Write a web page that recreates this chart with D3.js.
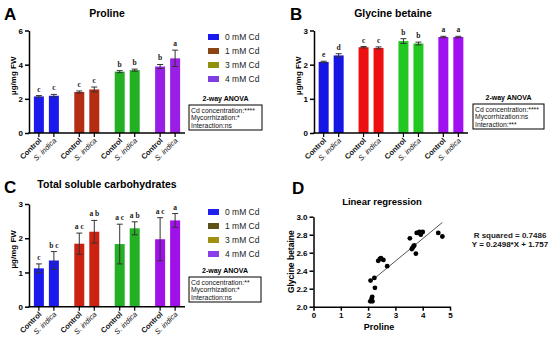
<!DOCTYPE html>
<html>
<head>
<meta charset="utf-8">
<script src="https://cdn.jsdelivr.net/npm/d3@7"></script>
<style>
  body { margin: 0; background: #fff; }
  svg { display: block; font-family: "Liberation Sans", Arial, sans-serif; }
</style>
</head>
<body>
<svg id="chart" width="550" height="344"></svg>
<script>
// groups and treatments
const groups = ["0 mM Cd", "1 mM Cd", "3 mM Cd", "4 mM Cd"];
const treatments = ["Control", "S. indica"];

// Panel A - proline
const prolineMean = [2.14, 2.18, 2.40, 2.55, 3.59, 3.68, 3.89, 4.37];
const prolineErr = [0.05, 0.08, 0.06, 0.14, 0.06, 0.06, 0.12, 0.48];
const prolineLetters = ["c", "c", "c", "c", "b", "b", "b", "a"];

// Panel B - glycine betaine
const gbMean = [2.08, 2.27, 2.51, 2.49, 2.69, 2.62, 2.81, 2.81];
const gbErr = [0.02, 0.05, 0.02, 0.03, 0.07, 0.04, 0.02, 0.02];
const gbLetters = ["e", "d", "c", "c", "b", "b", "a", "a"];

// Panel C - total soluble carbohydrates
const tscMean = [1.12, 1.35, 1.84, 2.19, 1.83, 2.29, 1.97, 2.52];
const tscErr = [0.13, 0.26, 0.31, 0.33, 0.58, 0.19, 0.63, 0.2];
const tscLetters = ["c", "b c", "a c", "a b", "a c", "a b", "a c", "a"];

// Panel D - scatter (proline vs glycine betaine)
const scatterX = [2.09, 2.23, 2.25, 2.15, 2.13, 2.08, 2.16, 2.37, 2.47, 2.56, 2.43, 2.70,
                  3.53, 3.60, 3.66, 3.69, 3.62, 3.75, 3.78, 3.88, 3.93, 4.00, 3.84, 4.57, 4.72];
const scatterY = [2.29, 2.32, 2.21, 2.11, 2.09, 2.06, 2.06, 2.51, 2.54, 2.52, 2.53, 2.45,
                  2.76, 2.64, 2.67, 2.68, 2.65, 2.59, 2.82, 2.83, 2.80, 2.83, 2.82, 2.82, 2.78];
const slope = 0.2498, intercept = 1.757;

const svg = d3.select("#chart");

function styleAxis(a) {
  a.selectAll("text").attr("font-size", 8).attr("font-weight", "bold")
    .attr("font-family", "Liberation Sans, Arial, sans-serif");
  a.selectAll("path,line").attr("stroke-width", 1.5);
}

function barPanel(o) {
  const g = svg.append("g");
  const y = d3.scaleLinear().domain([0, o.yMax]).range([o.y0, o.y1]);
  const xg = d3.scalePoint().domain(groups).range([o.x0, o.x1]).padding(0.43);
  const xi = d3.scalePoint().domain(treatments).range([-7.5, 7.5]);
  const bw = 10;

  const rows = [];
  groups.forEach((gr, gi) => treatments.forEach((t, ti) => {
    const k = gi * 2 + ti;
    rows.push({ group: gr, treat: t, gi, mean: o.mean[k], err: o.err[k], letter: o.letters[k],
                x: xg(gr) + xi(t) });
  }));

  // bars
  g.selectAll("rect.bar").data(rows).join("rect")
    .attr("class", "bar")
    .attr("x", d => d.x - bw / 2)
    .attr("width", bw)
    .attr("y", d => y(d.mean))
    .attr("height", d => y(0) - y(d.mean))
    .attr("fill", d => o.colors[d.gi]);

  // error bars
  const eb = g.selectAll("g.err").data(rows).join("g").attr("class", "err")
    .attr("stroke", "#333").attr("stroke-width", 1);
  eb.append("line").attr("x1", d => d.x).attr("x2", d => d.x)
    .attr("y1", d => y(d.mean - d.err)).attr("y2", d => y(d.mean + d.err));
  eb.append("line").attr("x1", d => d.x - 3).attr("x2", d => d.x + 3)
    .attr("y1", d => y(d.mean + d.err)).attr("y2", d => y(d.mean + d.err));
  eb.append("line").attr("x1", d => d.x - 3).attr("x2", d => d.x + 3)
    .attr("y1", d => y(d.mean - d.err)).attr("y2", d => y(d.mean - d.err));

  // significance letters
  g.selectAll("text.let").data(rows).join("text")
    .attr("class", "let")
    .attr("x", d => d.x)
    .attr("y", d => y(d.mean + d.err) - 4)
    .attr("text-anchor", "middle")
    .attr("font-family", "Liberation Serif, serif")
    .attr("font-weight", "bold")
    .attr("font-size", 7.5)
    .attr("fill", "#222")
    .text(d => d.letter);

  // y axis
  g.append("g").attr("transform", `translate(${o.x0},0)`)
    .call(d3.axisLeft(y).tickValues(o.yTicks).tickFormat(d3.format("d"))
      .tickSize(4).tickSizeOuter(0).tickPadding(2))
    .call(styleAxis);

  // x axis line and ticks
  g.append("line").attr("x1", o.x0 - 0.75).attr("x2", o.x1)
    .attr("y1", y(0)).attr("y2", y(0)).attr("stroke", "#000").attr("stroke-width", 1.5);
  g.selectAll("line.xt").data(rows).join("line").attr("class", "xt")
    .attr("x1", d => d.x).attr("x2", d => d.x)
    .attr("y1", y(0)).attr("y2", y(0) + 4)
    .attr("stroke", "#000").attr("stroke-width", 1.2);
  g.selectAll("text.xl").data(rows).join("text").attr("class", "xl")
    .attr("transform", d => `translate(${d.x + 3},${y(0) + 8}) rotate(-45)`)
    .attr("text-anchor", "end")
    .attr("font-size", 7.5)
    .attr("font-weight", d => d.treat === "Control" ? "bold" : "normal")
    .attr("font-style", d => d.treat === "Control" ? "normal" : "italic")
    .attr("fill", "#111")
    .text(d => d.treat);

  // y label
  g.append("text")
    .attr("transform", `translate(${o.x0 - 13},${(o.y0 + o.y1) / 2 - 6}) rotate(-90)`)
    .attr("text-anchor", "middle").attr("font-size", 8).attr("font-weight", "bold")
    .text("µg/mg FW");

  // title and panel letter
  g.append("text").attr("x", o.titleX).attr("y", o.titleY).attr("text-anchor", "middle")
    .attr("font-size", 10.5).attr("font-weight", "bold").text(o.title);
  g.append("text").attr("x", o.letterX).attr("y", o.letterY)
    .attr("font-size", 17).attr("font-weight", "bold").text(o.panel);

  // legend
  if (o.legend) {
    const lg = g.append("g");
    const items = lg.selectAll("g").data(groups).join("g")
      .attr("transform", (d, i) => `translate(${o.legend.x},${o.legend.y + i * 14})`);
    items.append("rect").attr("x", 0).attr("y", -3).attr("width", 11).attr("height", 6)
      .attr("fill", (d, i) => o.legend.colors[i]);
    items.append("text").attr("x", 17).attr("y", 3.2).attr("font-size", 8.5).attr("fill", "#222")
      .text(d => d);
  }

  // ANOVA box
  const an = o.anova;
  g.append("text").attr("x", an.x + an.w / 2).attr("y", an.y - 4).attr("text-anchor", "middle")
    .attr("font-size", 7).attr("font-weight", "bold").text("2-way ANOVA");
  g.append("rect").attr("x", an.x).attr("y", an.y).attr("width", an.w).attr("height", 25)
    .attr("fill", "none").attr("stroke", "#000").attr("stroke-width", 1);
  g.selectAll("text.an").data(an.lines).join("text").attr("class", "an")
    .attr("x", an.x + 2).attr("y", (d, i) => an.y + 7.5 + i * 7.5)
    .attr("font-size", 6.8).attr("fill", "#111").text(d => d);
}

barPanel({
  panel: "A", title: "Proline", titleX: 107, titleY: 17, letterX: 4, letterY: 20,
  x0: 29, x1: 185, y0: 133, y1: 30.5, yMax: 6, yTicks: [0, 2, 4, 6],
  mean: prolineMean, err: prolineErr, letters: prolineLetters,
  colors: ["#1a1aee", "#b42c12", "#24b024", "#9a1fe6"],
  legend: { x: 208, y: 37, colors: ["#1a1aee", "#8b4513", "#8f8f10", "#7f3fe0"] },
  anova: { x: 189, y: 105, w: 73,
    lines: ["Cd concentration:****", "Mycorrhization:*", "Interaction:ns"] }
});

barPanel({
  panel: "B", title: "Glycine betaine", titleX: 393, titleY: 17, letterX: 290, letterY: 20,
  x0: 314, x1: 468, y0: 133, y1: 30.5, yMax: 3, yTicks: [0, 1, 2, 3],
  mean: gbMean, err: gbErr, letters: gbLetters,
  colors: ["#1515e6", "#ee1010", "#22c822", "#a010f0"],
  legend: null,
  anova: { x: 473, y: 104, w: 71,
    lines: ["Cd concentration:****", "Mycorrhization:ns", "Interaction:***"] }
});

barPanel({
  panel: "C", title: "Total soluble carbohydrates", titleX: 107, titleY: 188, letterX: 4, letterY: 193,
  x0: 29, x1: 185, y0: 306.7, y1: 204, yMax: 3, yTicks: [0, 1, 2, 3],
  mean: tscMean, err: tscErr, letters: tscLetters,
  colors: ["#1a1aee", "#cc2211", "#24b024", "#a010e8"],
  legend: { x: 208, y: 212, colors: ["#2020ee", "#5c5218", "#a09010", "#8a40e8"] },
  anova: { x: 189, y: 277, w: 72,
    lines: ["Cd concentration:**", "Mycorrhization:*", "Interaction:ns"] }
});

// Panel D - linear regression
(function () {
  const g = svg.append("g");
  const x = d3.scaleLinear().domain([0, 5]).range([313.5, 450]);
  const y = d3.scaleLinear().domain([2, 3]).range([306.7, 216.7]);

  g.append("g").attr("transform", `translate(0,${y(2)})`)
    .call(d3.axisBottom(x).ticks(5).tickSize(4).tickSizeOuter(0).tickPadding(2))
    .call(styleAxis);
  g.append("g").attr("transform", `translate(${x(0)},0)`)
    .call(d3.axisLeft(y).tickValues(d3.range(2, 3.01, 0.2)).tickFormat(d3.format(".1f"))
      .tickSize(4).tickSizeOuter(0).tickPadding(2))
    .call(styleAxis);

  // fitted line across the x range of the data
  const [xmin, xmax] = d3.extent(scatterX);
  g.append("line")
    .attr("x1", x(xmin)).attr("y1", y(slope * xmin + intercept))
    .attr("x2", x(xmax)).attr("y2", y(slope * xmax + intercept))
    .attr("stroke", "#555").attr("stroke-width", 1);

  g.selectAll("circle").data(scatterX.map((v, i) => [v, scatterY[i]])).join("circle")
    .attr("cx", d => x(d[0])).attr("cy", d => y(d[1])).attr("r", 2.4).attr("fill", "#000");

  g.append("text").attr("x", 292).attr("y", 194).attr("font-size", 17).attr("font-weight", "bold").text("D");
  g.append("text").attr("x", 382).attr("y", 205).attr("text-anchor", "middle")
    .attr("font-size", 9.5).attr("font-weight", "bold").text("Linear regression");
  g.append("text").attr("x", 379).attr("y", 330).attr("text-anchor", "middle")
    .attr("font-size", 9).attr("font-weight", "bold").text("Proline");
  g.append("text").attr("transform", `translate(294,${(y(2) + y(3)) / 2}) rotate(-90)`)
    .attr("text-anchor", "middle").attr("font-size", 8.5).attr("font-weight", "bold").text("Glycine betaine");
  g.append("text").attr("x", 510).attr("y", 238).attr("text-anchor", "middle")
    .attr("font-size", 8).attr("font-weight", "bold").attr("fill", "#222").text("R squared = 0.7486");
  g.append("text").attr("x", 510).attr("y", 247).attr("text-anchor", "middle")
    .attr("font-size", 8).attr("font-weight", "bold").attr("fill", "#111").text("Y = 0.2498*X + 1.757");
})();
</script>
</body>
</html>
